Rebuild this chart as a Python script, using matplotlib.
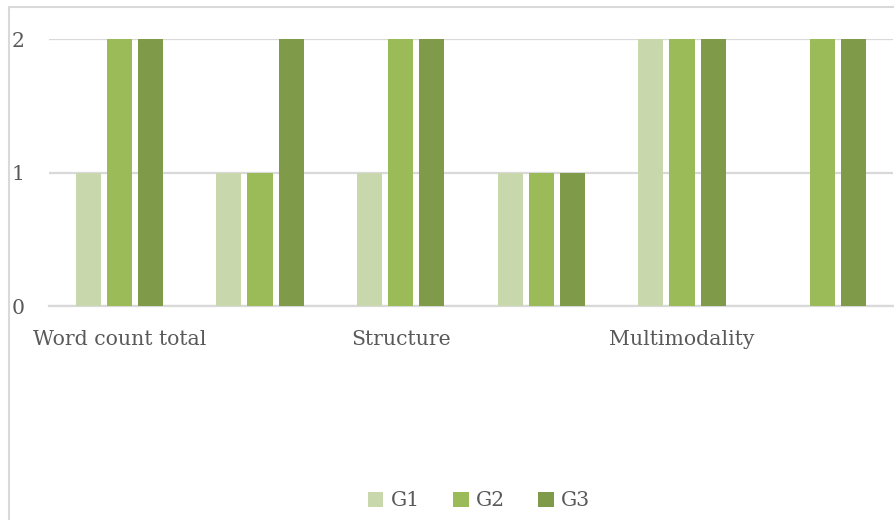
import numpy as np
import matplotlib.pyplot as plt
from matplotlib.patches import Rectangle

categories = ["Word count total", "", "Structure", "", "Multimodality", ""]
groups = ["G1", "G2", "G3"]
g1 = [1, 1, 1, 1, 2, 0]
g2 = [2, 1, 2, 1, 2, 2]
g3 = [2, 2, 2, 1, 2, 2]
colors = ["#C8D7AC", "#9BBB59", "#7F9A48"]

plt.rcParams['font.family'] = ['DejaVu Serif']
W, H = 895, 520
fig = plt.figure(figsize=(W / 100, H / 100), dpi=100)
ax = fig.add_axes([49 / W, 1 - 306 / H, 844 / W, (306 - 39) / H])

x = np.arange(len(categories))
width = 0.178
offset = 0.222
for i, (vals, name) in enumerate(zip([g1, g2, g3], groups)):
    ax.bar(x + (i - 1) * offset, vals, width, color=colors[i], label=name, zorder=3)

ax.set_xlim(-0.5, len(categories) - 0.5)
ax.set_ylim(0, 2)
ax.set_yticks([0, 1, 2])
ax.yaxis.grid(True, color="#D9D9D9", linewidth=1.6, zorder=0)
ax.set_xticks(x)
ax.set_xticklabels(categories)
ax.tick_params(axis='both', length=0, labelsize=14.7, colors="#595959")
ax.tick_params(axis='x', pad=17)
ax.tick_params(axis='y', pad=27)
for lbl in ax.get_yticklabels():
    lbl.set_horizontalalignment('left')
for s in ax.spines.values():
    s.set_visible(False)
ax.spines['bottom'].set_visible(True)
ax.spines['bottom'].set_color("#D9D9D9")
ax.spines['bottom'].set_linewidth(1.6)

leg = fig.legend(loc='center', bbox_to_anchor=(479 / W, 1 - 501 / H), ncol=3,
                 frameon=False, fontsize=14.7, handlelength=0.75, handleheight=0.75,
                 columnspacing=1.65, handletextpad=0.35)
for t in leg.get_texts():
    t.set_color("#595959")

fig.patches.append(Rectangle((9.5 / W, -0.1), 1.2, 1 - 7.5 / H + 0.1,
                             transform=fig.transFigure, fill=False,
                             edgecolor="#D9D9D9", linewidth=1.5))

plt.savefig("out.png", dpi=100)
